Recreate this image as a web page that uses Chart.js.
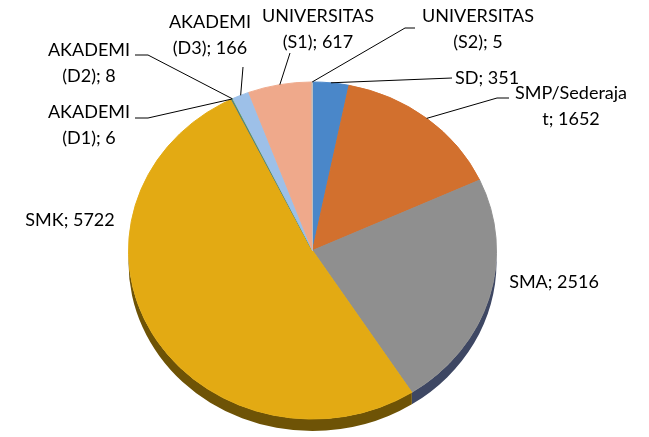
<!DOCTYPE html>
<html lang="id">
<head>
    <meta charset="UTF-8">
    <title>Tingkat Pendidikan</title>
    <script src="https://cdn.jsdelivr.net/npm/chart.js"></script>
    <style>
        html, body { margin: 0; padding: 0; background: #fff; }
    </style>
</head>
<body>
    <canvas id="pendidikanChart" width="649" height="437"></canvas>

    <script>
        // data: education level and number of people
        const categories = ['SD', 'SMP/Sederaja\nt', 'SMA', 'SMK', 'AKADEMI\n(D1)', 'AKADEMI\n(D2)', 'AKADEMI\n(D3)', 'UNIVERSITAS\n(S1)', 'UNIVERSITAS\n(S2)'];
        const values = [351, 1652, 2516, 5722, 6, 8, 166, 617, 5];

        const topColors = ['#4a87c9', '#d2702e', '#8f8f8f', '#e3aa13', '#3f6bb0', '#6aa143', '#9dc0e8', '#efa98b', '#bebebe'];
        const sideColors = ['#2c5585', '#83431a', '#3e4763', '#6e5306', '#27446f', '#42662a', '#5f7a99', '#9a6450', '#777777'];

        // where each label sits, plus the bend points of its leader line
        const labelLayout = [
            { x: 455, y: 78, align: 'left', bend: [[452, 78]] },
            { x: 571, y: 93, align: 'center', bend: [[497, 98], [509, 98]] },
            { x: 554, y: 282, align: 'center', bend: null },
            { x: 70, y: 220, align: 'center', bend: null },
            { x: 89, y: 112, align: 'center', bend: [[148, 118], [135, 118]] },
            { x: 89, y: 50, align: 'center', bend: [[148, 55], [135, 55]] },
            { x: 210, y: 22, align: 'center', bend: [[243, 67]] },
            { x: 318, y: 16, align: 'center', bend: [[290, 53]] },
            { x: 478, y: 16, align: 'center', bend: [[405, 28], [415, 28]] }
        ];

        const tilt = 169 / 184.5;
        const depth = 12;
        const lineGap = 26;

        // squashes the pie into an ellipse and draws the rim under it
        const pie3d = {
            id: 'pie3d',
            beforeDatasetsDraw(chart) {
                const ctx = chart.ctx;
                const arcs = chart.getDatasetMeta(0).data;
                const cx = arcs[0].x, cy = arcs[0].y, R = arcs[0].outerRadius;
                ctx.save();
                arcs.forEach((arc, i) => {
                    const s = Math.max(arc.startAngle, 0);
                    const e = Math.min(arc.endAngle, Math.PI);
                    if (e <= s) return;
                    ctx.beginPath();
                    ctx.ellipse(cx, cy, R, R * tilt, 0, s, e);
                    ctx.ellipse(cx, cy + depth, R, R * tilt, 0, e, s, true);
                    ctx.closePath();
                    ctx.fillStyle = sideColors[i];
                    ctx.fill();
                });
                ctx.restore();
                ctx.save();
                ctx.translate(cx, cy);
                ctx.scale(1, tilt);
                ctx.translate(-cx, -cy);
            },
            afterDatasetsDraw(chart) {
                chart.ctx.restore();
            }
        };

        // "name; value" labels with leader lines, like the spreadsheet chart
        const pieLabels = {
            id: 'pieLabels',
            afterDraw(chart) {
                const ctx = chart.ctx;
                const arcs = chart.getDatasetMeta(0).data;
                ctx.save();
                ctx.font = '18px Lato';
                ctx.textBaseline = 'middle';
                arcs.forEach((arc, i) => {
                    const lay = labelLayout[i];
                    if (lay.bend) {
                        const mid = (arc.startAngle + arc.endAngle) / 2;
                        const ex = arc.x + arc.outerRadius * Math.cos(mid);
                        const ey = arc.y + arc.outerRadius * tilt * Math.sin(mid);
                        ctx.beginPath();
                        ctx.moveTo(ex, ey);
                        lay.bend.forEach(p => ctx.lineTo(p[0], p[1]));
                        ctx.strokeStyle = '#000';
                        ctx.lineWidth = 1;
                        ctx.stroke();
                    }
                    const text = categories[i] + '; ' + values[i];
                    ctx.fillStyle = '#000';
                    ctx.textAlign = lay.align;
                    text.split('\n').forEach((line, k) => {
                        ctx.fillText(line, lay.x, lay.y + k * lineGap);
                    });
                });
                ctx.restore();
            }
        };

        new Chart(document.getElementById('pendidikanChart'), {
            type: 'pie',
            data: {
                labels: categories,
                datasets: [{
                    data: values,
                    backgroundColor: topColors,
                    borderColor: topColors,
                    borderWidth: 1,
                    hoverOffset: 0
                }]
            },
            options: {
                responsive: false,
                animation: false,
                layout: { padding: { left: 128, right: 152, top: 66, bottom: 2 } },
                plugins: {
                    legend: { display: false },
                    tooltip: { enabled: false }
                }
            },
            plugins: [pie3d, pieLabels]
        });
    </script>
</body>
</html>
